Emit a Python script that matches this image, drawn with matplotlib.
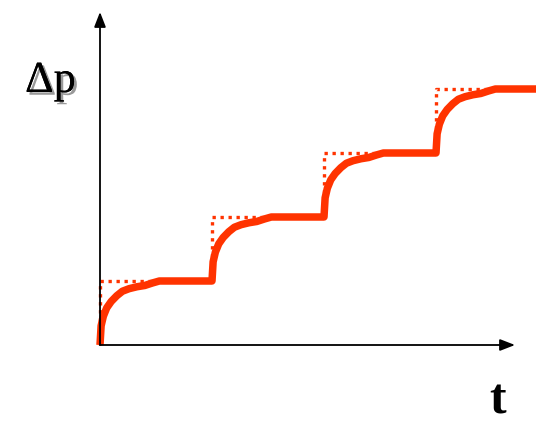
import numpy as np
import matplotlib
matplotlib.use("Agg")
import matplotlib.pyplot as plt
import matplotlib.patheffects as pe

# step response data (time in step periods, pressure in step heights)
step_times = [0.0, 1.0, 2.0, 3.0]
step_levels = [1.0, 2.0, 3.0, 4.0]
t_end = 3.9

# shape of each rise after a step (offset in time, fraction of step reached)
rise_dt = [0.0, 0.01, 0.03, 0.06, 0.10, 0.15, 0.20, 0.26, 0.33, 0.40, 0.47, 0.53]
rise_frac = [0.0, 0.30, 0.45, 0.58, 0.68, 0.77, 0.84, 0.88, 0.91, 0.93, 0.97, 1.0]

RED = "#FF3300"

fig = plt.figure(figsize=(5.36, 4.24), dpi=100)
ax = fig.add_axes([0, 0, 1, 1])
ax.set_xlim(-100 / 112, 436 / 112)
ax.set_ylim(-79 / 64, 345 / 64)
ax.axis("off")

# measured curve
t_pts, p_pts = [], []
prev = 0.0
for i, (ts, lev) in enumerate(zip(step_times, step_levels)):
    for dt, fr in zip(rise_dt, rise_frac):
        t_pts.append(ts + dt)
        p_pts.append(prev + fr * (lev - prev))
    nxt = step_times[i + 1] if i + 1 < len(step_times) else t_end
    t_pts.append(nxt)
    p_pts.append(lev)
    prev = lev

# ideal step (dotted)
t_ideal, p_ideal = [0.0], [0.0]
prev = 0.0
for i, (ts, lev) in enumerate(zip(step_times, step_levels)):
    t_ideal += [ts, ts]
    p_ideal += [prev, lev]
    prev = lev
t_ideal.append(t_end)
p_ideal.append(prev)

ax.plot(t_ideal, p_ideal, color=RED, lw=2.4, linestyle=(0, (1, 1.4)),
        dash_capstyle="butt", zorder=2)
ax.plot(t_pts, p_pts, color=RED, lw=5.4, solid_capstyle="butt",
        solid_joinstyle="round", zorder=3)

# axes with arrow heads
arrow = dict(arrowstyle="-|>,head_length=0.9,head_width=0.35", color="black",
             lw=1.3, shrinkA=0, shrinkB=0)
ax.annotate("", xy=(0, 333 / 64), xytext=(0, 0), arrowprops=arrow, zorder=4)
ax.annotate("", xy=(415 / 112, 0), xytext=(0, 0), arrowprops=arrow, zorder=4)

ax.text(-75 / 112, 253 / 64, "\u0394p", fontsize=32, family="Liberation Serif",
        ha="left", va="baseline", color="black",
        path_effects=[pe.withSimplePatchShadow(offset=(2, -2), shadow_rgbFace="gray", alpha=0.8),
                      pe.Normal()])
ax.text(398 / 112, -68 / 64, "t", fontsize=36, family="Liberation Serif",
        weight="bold", ha="center", va="baseline", color="black")

fig.savefig("out.png", dpi=100)
